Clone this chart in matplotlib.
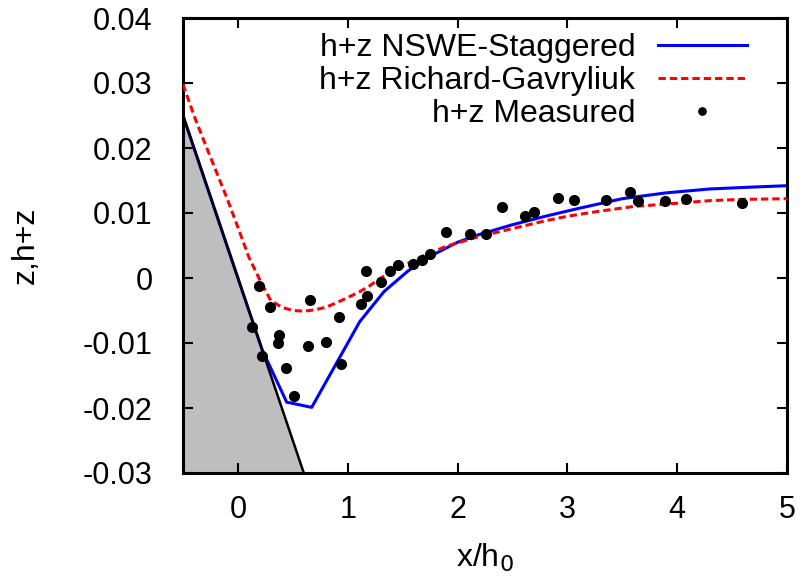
import matplotlib
matplotlib.use('Agg')
import matplotlib.pyplot as plt

plt.rcParams['font.family'] = ['Liberation Sans', 'DejaVu Sans']

# bed (z)
bed_x = [-0.5, 0.6]
bed_z = [0.025, -0.03]

# h+z NSWE-Staggered
nswe_x = [-0.5, 0.22, 0.444, 0.672, 1.11, 1.33, 1.55, 1.78, 2.0, 2.2, 2.5, 2.8,
          3.1, 3.5, 3.9, 4.3, 4.7, 5.0]
nswe_y = [0.025, -0.011, -0.0191, -0.0199, -0.0067, -0.0021, 0.0011, 0.0036,
          0.0055, 0.0067, 0.0082, 0.0095, 0.0107, 0.0122, 0.0131, 0.0137,
          0.0140, 0.0142]

# h+z Richard-Gavryliuk
rg_x = [-0.5, -0.4, -0.3, -0.2, -0.1, 0.0, 0.1, 0.2, 0.3, 0.4, 0.5, 0.6, 0.7,
        0.8, 0.9, 1.0, 1.1, 1.2, 1.3, 1.4, 1.5, 1.6, 1.7, 1.8, 1.9, 2.0, 2.2,
        2.4, 2.6, 2.8, 3.0, 3.3, 3.6, 4.0, 4.3, 4.6, 5.0]
rg_y = [0.0298, 0.0250, 0.0207, 0.0165, 0.0123, 0.0078, 0.0032, -0.0003,
        -0.0035, -0.0045, -0.0050, -0.0051, -0.0049, -0.0045, -0.0038, -0.0030,
        -0.0022, -0.0012, 0.0000, 0.0009, 0.0018, 0.0027, 0.0035, 0.0042,
        0.0049, 0.0054, 0.0064, 0.0072, 0.0080, 0.0088, 0.0095, 0.0103, 0.0110,
        0.0115, 0.0119, 0.0121, 0.0122]

# h+z measured
meas_x = [0.191, 0.292, 0.130, 0.656, 0.377, 0.362, 0.216, 0.435, 0.511, 0.638,
          0.799, 0.918, 0.942, 1.118, 1.164, 1.179, 1.306, 1.386, 1.456, 1.598,
          1.675, 1.750, 1.893, 2.115, 2.258, 2.404, 2.616, 2.692, 2.911, 3.057,
          3.349, 3.567, 3.640, 3.887, 4.078, 4.588]
meas_y = [-0.0013, -0.0045, -0.0075, -0.0034, -0.0088, -0.0100, -0.0120, -0.0139,
          -0.0182, -0.0104, -0.0099, -0.0060, -0.0132, -0.0040, 0.0011, -0.0028,
          -0.0006, 0.0011, 0.0020, 0.0021, 0.0027, 0.0037, 0.0071, 0.0068,
          0.0068, 0.0110, 0.0096, 0.0101, 0.0123, 0.0120, 0.0120, 0.0132,
          0.0118, 0.0118, 0.0121, 0.0115]

xticks = [0, 1, 2, 3, 4, 5]
yticks = [-0.03, -0.02, -0.01, 0, 0.01, 0.02, 0.03, 0.04]
ytick_labels = ['-0.03', '-0.02', '-0.01', '0', '0.01', '0.02', '0.03', '0.04']

fs = 23
fig = plt.figure(figsize=(8.05, 5.79), dpi=100)
ax = fig.add_axes([183 / 805, 1 - 473 / 579, 604 / 805, 455 / 579])

ax.fill_between(bed_x, bed_z, -0.03, color='#bebebe', lw=0, zorder=1)
ax.plot(nswe_x, nswe_y, color='#0000ff', lw=2.2, label='h+z NSWE-Staggered', zorder=2)
ax.plot(rg_x, rg_y, color='#ff0000', lw=2.2, ls=(0, (2.4, 1.3)),
        label='h+z Richard-Gavryliuk', zorder=3)
ax.plot(bed_x, bed_z, color='black', lw=1.8, zorder=4)
ax.plot(meas_x, meas_y, 'o', color='black', ms=7, label='h+z Measured', zorder=5)

ax.set_xlim(-0.5, 5)
ax.set_ylim(-0.03, 0.04)
ax.set_xticks(xticks)
ax.set_xticklabels([str(t) for t in xticks])
ax.set_yticks(yticks)
ax.set_yticklabels(ytick_labels)
ax.tick_params(direction='in', length=7, width=1.5, top=True, right=True,
               labelsize=22)
ax.tick_params(axis='y', pad=22)
ax.tick_params(axis='x', pad=16)
for s in ax.spines.values():
    s.set_linewidth(2.2)

ax.set_xlabel('x/h$_0$', fontsize=fs)
ax.set_ylabel('z,h+z', fontsize=fs)
ax.xaxis.set_label_coords(0.5, -0.15)
ax.yaxis.set_label_coords(-0.235, 0.5)

leg = ax.legend(loc='upper right', bbox_to_anchor=(747 / 805, 1 - 33 / 579),
                bbox_transform=fig.transFigure, frameon=False, markerfirst=False,
                fontsize=fs, handlelength=2.8, handletextpad=0.7,
                labelspacing=0.1, borderpad=0, borderaxespad=0, markerscale=0.75)

fig.savefig('out.png', dpi=100)
